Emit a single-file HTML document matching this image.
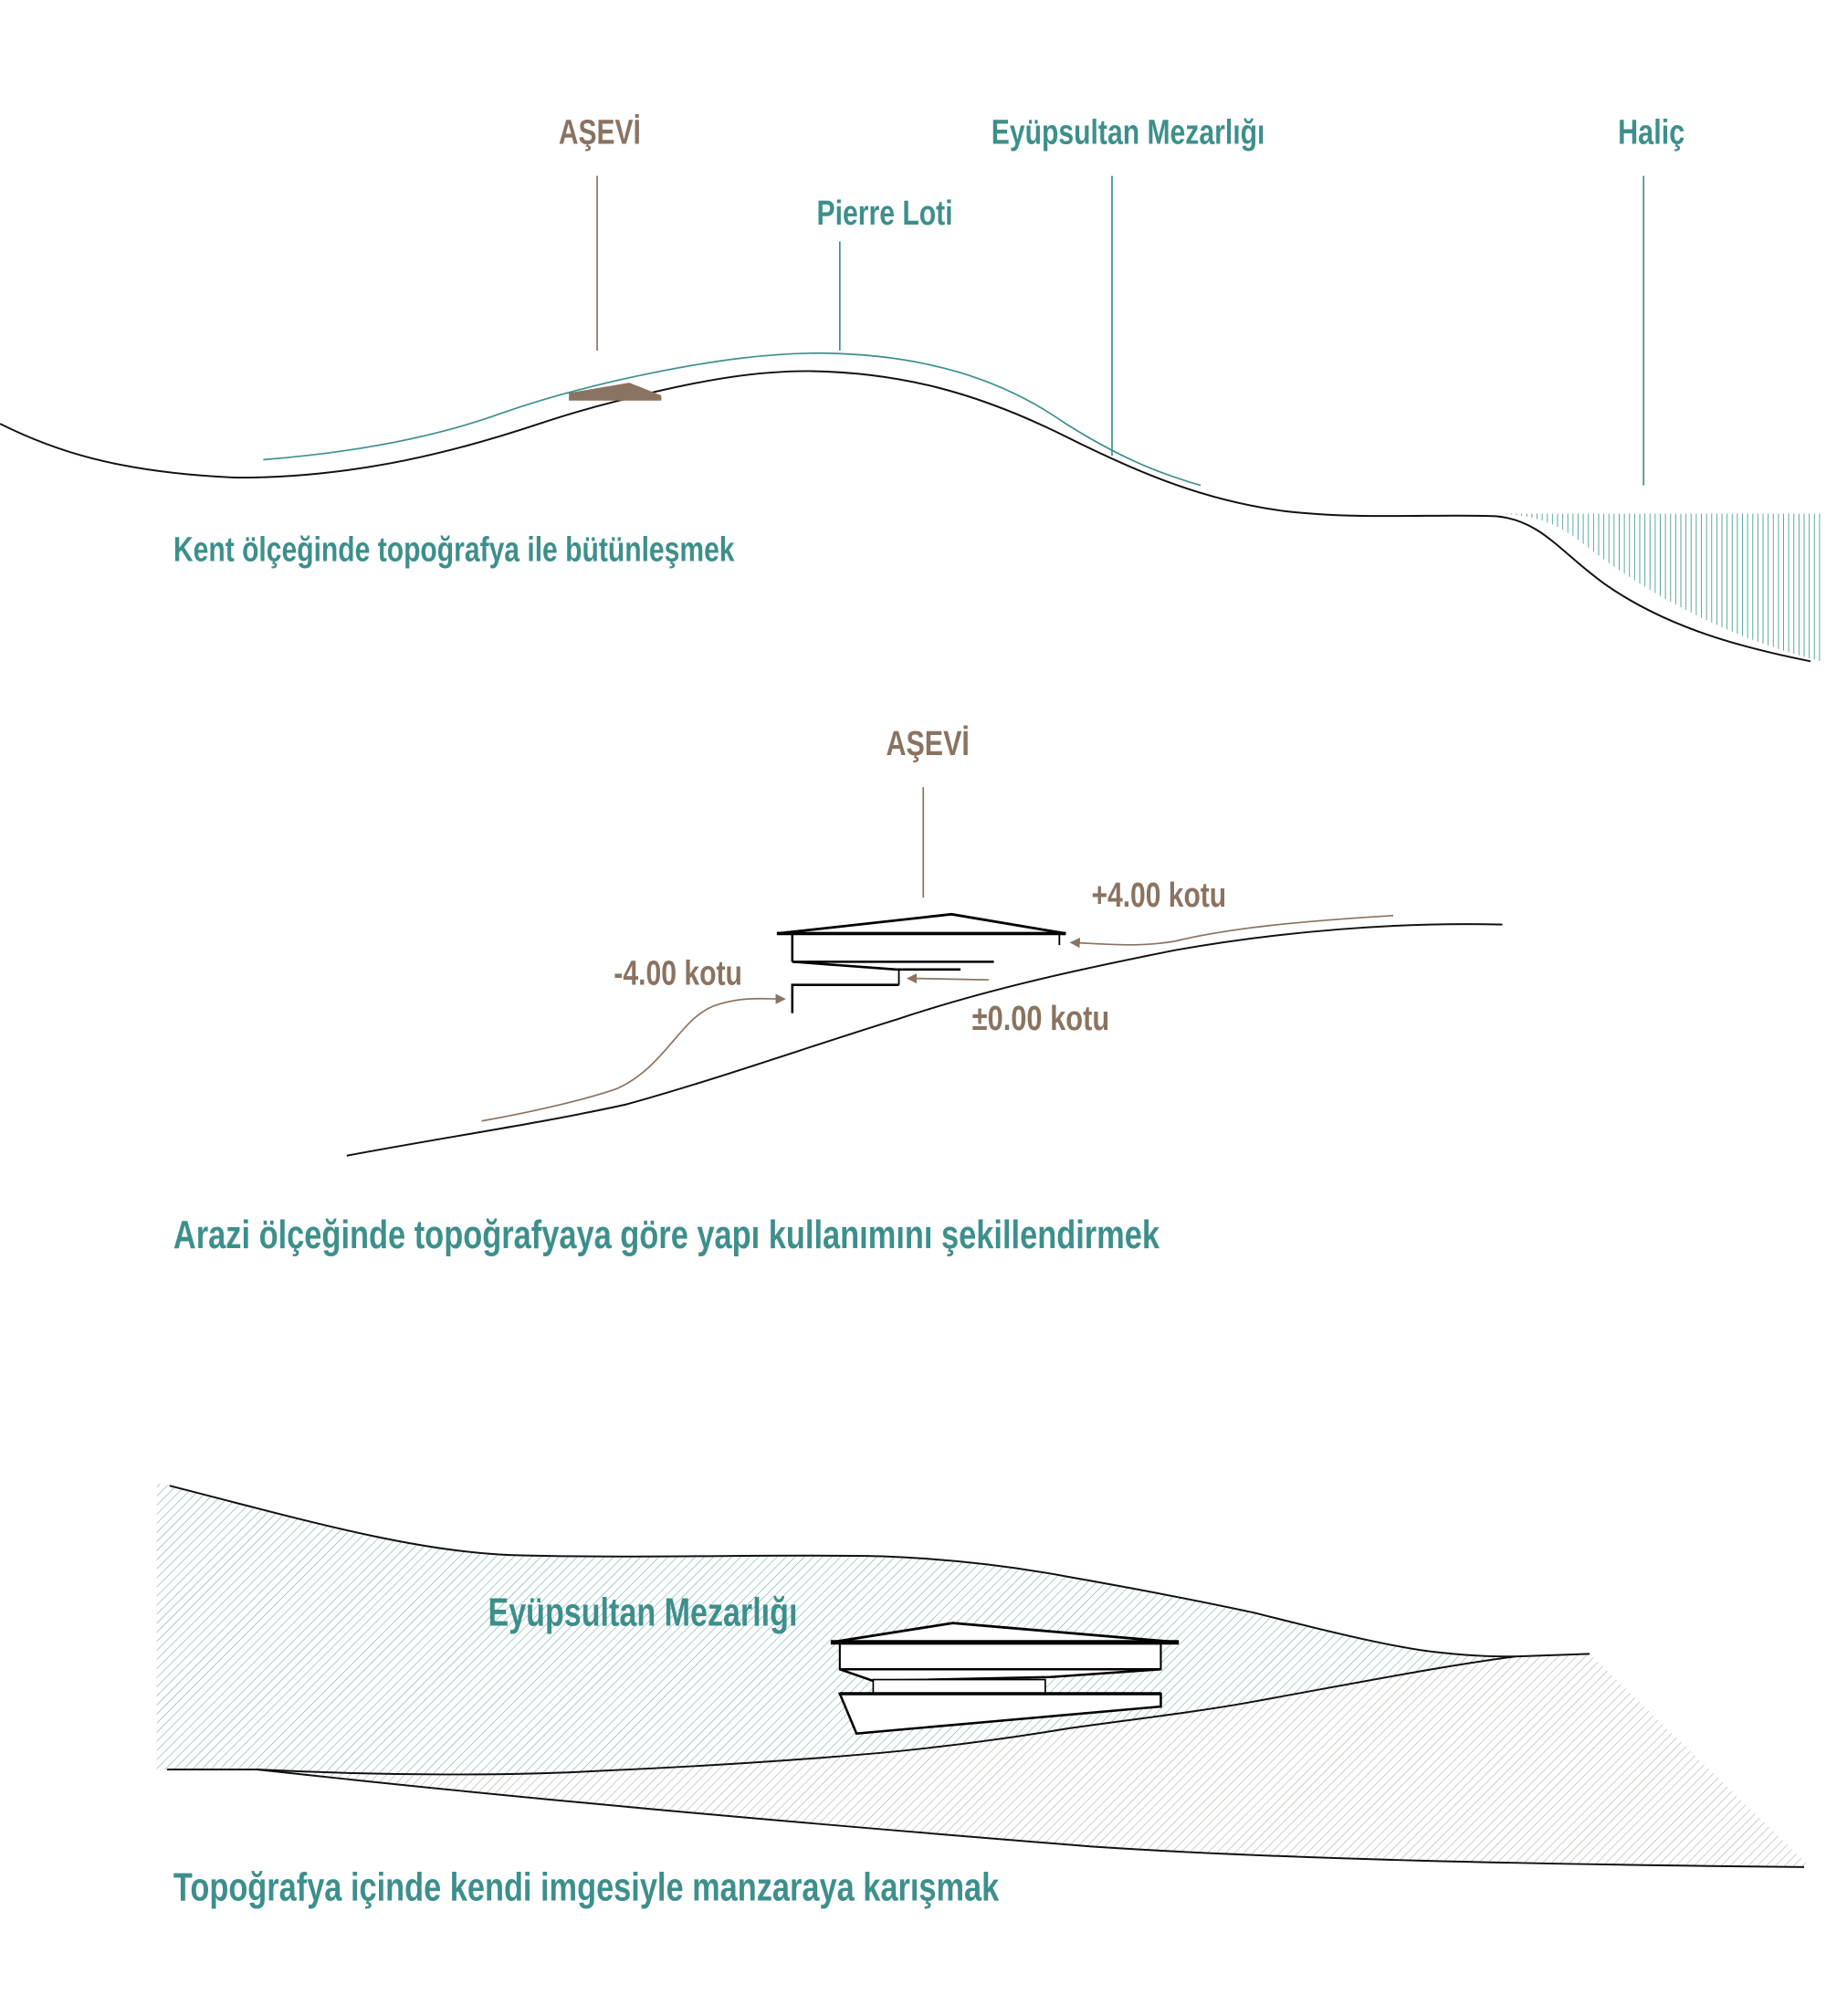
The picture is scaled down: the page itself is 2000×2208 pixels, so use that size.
<!DOCTYPE html>
<html><head><meta charset="utf-8"><style>
html,body{margin:0;padding:0;background:#fff;}
svg{display:block;}
text{font-family:"Liberation Sans Narrow","Liberation Sans",sans-serif;font-weight:bold;}
.b{fill:#8a7360}.t{fill:#3d8f8b}
</style></head><body>
<svg width="2000" height="2208" viewBox="0 0 1422 1570" xmlns="http://www.w3.org/2000/svg">
<defs>
<pattern id="vh" width="4" height="10" patternUnits="userSpaceOnUse"><line x1="1" y1="0" x2="1" y2="10" stroke="#5aa6a2" stroke-width="0.7"/></pattern>
<pattern id="dt" width="5" height="5" patternUnits="userSpaceOnUse" patternTransform="rotate(45)"><line x1="0" y1="0" x2="0" y2="5" stroke="#6aa9a6" stroke-width="0.8"/></pattern>
<pattern id="db" width="5" height="5" patternUnits="userSpaceOnUse" patternTransform="rotate(45)"><line x1="0" y1="0" x2="0" y2="5" stroke="#b3a89e" stroke-width="0.8"/></pattern>
<marker id="ar" markerWidth="8" markerHeight="8" refX="7" refY="4" orient="auto" markerUnits="userSpaceOnUse"><path d="M0,0 L8,4 L0,8 z" fill="#8a7360"/></marker>
</defs>

<!-- Section 1 -->
<text class="b" x="435" y="112" font-size="27" textLength="64" lengthAdjust="spacingAndGlyphs">AŞEVİ</text>
<text class="t" x="772" y="112" font-size="27" textLength="213" lengthAdjust="spacingAndGlyphs">Eyüpsultan Mezarlığı</text>
<text class="t" x="1260" y="112" font-size="27" textLength="52" lengthAdjust="spacingAndGlyphs">Haliç</text>
<text class="t" x="636" y="175" font-size="27" textLength="106" lengthAdjust="spacingAndGlyphs">Pierre Loti</text>
<line x1="465" y1="137" x2="465" y2="273" stroke="#8a7360" stroke-width="1.2"/>
<line x1="654" y1="188" x2="654" y2="273" stroke="#3d8f8b" stroke-width="1.2"/>
<line x1="866" y1="137" x2="866" y2="355" stroke="#3d8f8b" stroke-width="1.2"/>
<line x1="1280" y1="137" x2="1280" y2="378" stroke="#3d8f8b" stroke-width="1.2"/>
<path d="M1168,400 L1418,400 L1418,515 C1340,495 1280,460 1235,425 C1210,405 1195,402 1168,400 Z" fill="url(#vh)"/>
<path d="M205,358 C280,352 340,340 390,322 C430,308 470,298 510,290 C560,280 600,275 640,275 C720,276 780,295 830,330 C870,355 900,368 935,378" fill="none" stroke="#3d8f8b" stroke-width="1.2"/>
<path d="M0,330 C40,350 90,368 185,372 C280,372 360,350 420,330 C450,320 470,315 490,310 C550,295 590,289 630,289 C700,290 760,305 830,340 C890,370 940,390 1000,398 C1060,405 1120,400 1165,402 C1200,405 1215,430 1250,455 C1300,490 1360,505 1410,515" fill="none" stroke="#111" stroke-width="1.4"/>
<polygon points="443,306 490,298 515,308 515,312 443,312" fill="#8a7360"/>
<text class="t" x="135" y="437" font-size="27" textLength="437" lengthAdjust="spacingAndGlyphs">Kent ölçeğinde topoğrafya ile bütünleşmek</text>

<!-- Section 2 -->
<text class="b" x="690" y="588" font-size="27" textLength="65" lengthAdjust="spacingAndGlyphs">AŞEVİ</text>
<line x1="719" y1="613" x2="719" y2="699" stroke="#8a7360" stroke-width="1.2"/>
<path d="M270,900 C350,885 420,875 488,860 C560,840 630,815 698,794 C770,770 840,755 915,740 C1000,725 1090,718 1170,720" fill="none" stroke="#111" stroke-width="1.4"/>
<g stroke="#000" fill="none">
<path d="M605,727 L741,712 L830,727" stroke-width="2"/>
<line x1="605" y1="727" x2="830" y2="727" stroke-width="2.5"/>
<line x1="825" y1="727" x2="825" y2="736" stroke-width="1.3"/>
<line x1="617" y1="727" x2="617" y2="749" stroke-width="1.8"/>
<line x1="617" y1="749" x2="774" y2="749" stroke-width="1.8"/>
<path d="M617,749 L698,755 L748,755" stroke-width="1.8"/>
<line x1="700" y1="755" x2="700" y2="767" stroke-width="1.3"/>
<path d="M700,767 L617,767 L617,789" stroke-width="1.8"/>
</g>
<path d="M1085,713 C1020,717 960,722 915,733 C885,738 860,735 834,734" fill="none" stroke="#8a7360" stroke-width="1.2" marker-end="url(#ar)"/>
<path d="M770,763 C750,763 730,762 707,762" fill="none" stroke="#8a7360" stroke-width="1.2" marker-end="url(#ar)"/>
<path d="M375,873 C420,865 460,855 480,848 C520,830 530,790 560,782 C580,776 595,778 611,778" fill="none" stroke="#8a7360" stroke-width="1.2" marker-end="url(#ar)"/>
<text class="b" x="850" y="706" font-size="27" textLength="105" lengthAdjust="spacingAndGlyphs">+4.00 kotu</text>
<text class="b" x="478" y="767" font-size="27" textLength="100" lengthAdjust="spacingAndGlyphs">-4.00 kotu</text>
<text class="b" x="757" y="802" font-size="27" textLength="107" lengthAdjust="spacingAndGlyphs">±0.00 kotu</text>
<text class="t" x="135" y="972" font-size="31" textLength="768" lengthAdjust="spacingAndGlyphs">Arazi ölçeğinde topoğrafyaya göre yapı kullanımını şekillendirmek</text>

<!-- Section 3 -->
<path d="M200,1378 C300,1383 400,1383 469,1379 C560,1375 630,1370 687,1365 C740,1360 790,1353 832,1346 C890,1338 940,1332 977,1325 C1060,1310 1120,1298 1180,1290 L1238,1288 L1410,1454 C1200,1452 1000,1448 850,1438 C600,1418 400,1400 200,1378 Z" fill="url(#db)"/>
<path d="M122,1155 L132,1157 C230,1182 320,1208 397,1211 C500,1214 600,1210 687,1212 C740,1214 790,1220 832,1228 C900,1240 940,1248 977,1256 C1040,1272 1090,1284 1122,1287 C1150,1290 1165,1290 1180,1290 C1120,1298 1060,1310 977,1325 C940,1332 890,1338 832,1346 C790,1353 740,1360 687,1365 C630,1370 560,1375 469,1379 C400,1383 300,1383 200,1378 L122,1378 Z" fill="url(#dt)"/>
<path d="M132,1157 C230,1182 320,1208 397,1211 C500,1214 600,1210 687,1212 C740,1214 790,1220 832,1228 C900,1240 940,1248 977,1256 C1040,1272 1090,1284 1122,1287 C1150,1290 1165,1290 1180,1290 L1238,1288" fill="none" stroke="#111" stroke-width="1.4"/>
<path d="M130,1378 L200,1378 C300,1383 400,1383 469,1379 C560,1375 630,1370 687,1365 C740,1360 790,1353 832,1346 C890,1338 940,1332 977,1325 C1060,1310 1120,1298 1180,1290" fill="none" stroke="#111" stroke-width="1.4"/>
<path d="M200,1378 C400,1400 600,1418 850,1438 C1000,1448 1200,1452 1405,1454" fill="none" stroke="#111" stroke-width="1.4"/>
<g stroke="#000" fill="#fff">
<polygon points="647,1279 742,1264 918,1279" stroke-width="2"/>
<rect x="654" y="1280" width="250" height="20" stroke-width="1.5"/>
<polygon points="654,1300 904,1300 818,1306 680,1309" stroke-width="1.8"/>
<rect x="680" y="1308" width="134" height="11" stroke-width="1.2"/>
<polygon points="654,1319 904,1319 904,1329 667,1350" stroke-width="1.8"/>
<line x1="647" y1="1279" x2="918" y2="1279" stroke-width="3.5"/>
<line x1="654" y1="1319" x2="904" y2="1319" stroke-width="2.5"/>
</g>
<text class="t" x="380" y="1266" font-size="31" textLength="241" lengthAdjust="spacingAndGlyphs">Eyüpsultan Mezarlığı</text>
<text class="t" x="135" y="1480" font-size="31" textLength="643" lengthAdjust="spacingAndGlyphs">Topoğrafya içinde kendi imgesiyle manzaraya karışmak</text>
</svg>
</body></html>
